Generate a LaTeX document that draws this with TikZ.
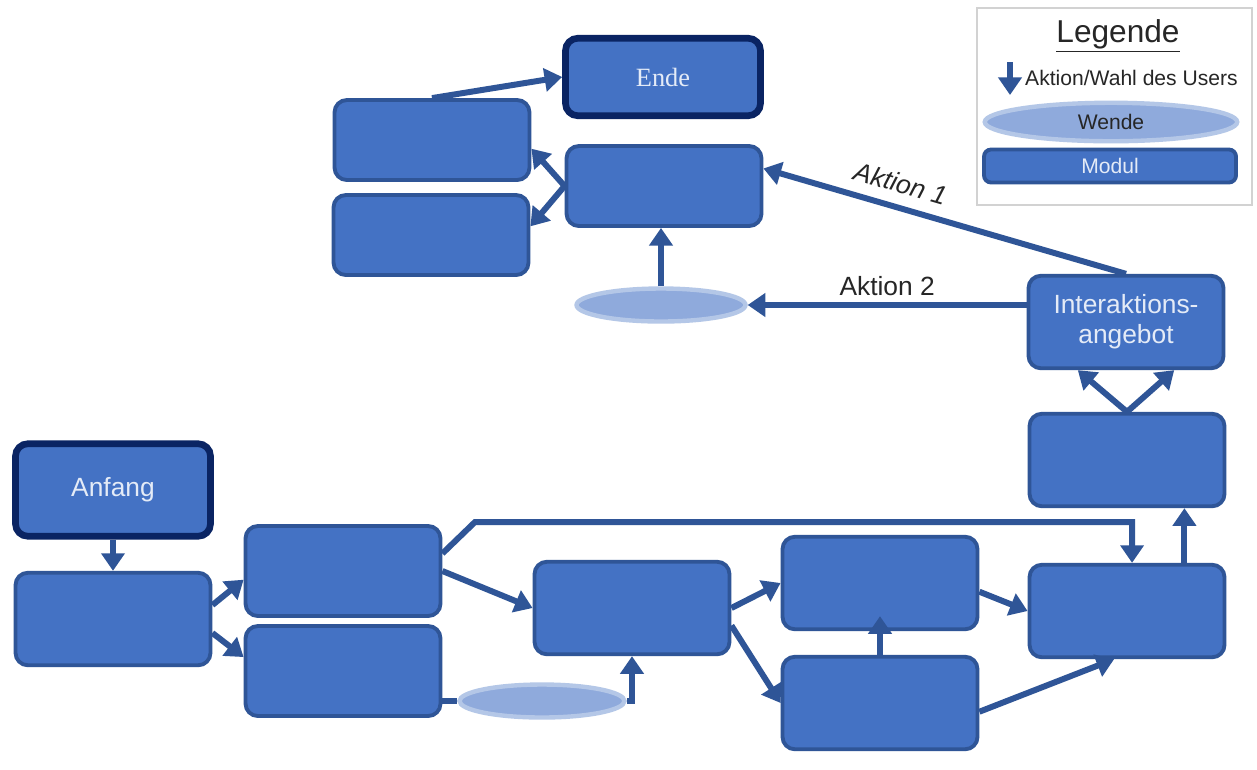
\documentclass[tikz,border=0pt]{standalone}
\usepackage{fontspec}
\setmainfont{Liberation Sans}
\newfontfamily\serifschrift{Liberation Serif}
\usetikzlibrary{arrows.meta,shapes.geometric}
\definecolor{modulblau}{HTML}{4472C4}
\definecolor{randblau}{HTML}{2F5597}
\definecolor{dunkelblau}{HTML}{0A2463}
\definecolor{wendeblau}{HTML}{8FAADC}
\definecolor{wendehell}{HTML}{B4C7E7}
\definecolor{schrift}{HTML}{E4EBF7}
\begin{document}
\begin{tikzpicture}[x=0.02cm,y=-0.02cm,
    modul/.style={draw=randblau,fill=modulblau,line width=2.2pt,rounded corners=7pt,
      minimum width=3.9cm,minimum height=1.85cm,text=schrift,
      font=\fontsize{15}{17}\selectfont,align=center},
    randmodul/.style={modul,draw=dunkelblau,line width=3.8pt},
    wende/.style={ellipse,draw=wendehell,fill=wendeblau,line width=2.5pt,
      minimum width=3.38cm,minimum height=0.66cm},
    pfeil/.style={draw=randblau,line width=3.4pt,-{Triangle[length=10pt,width=13pt]}},
    linie/.style={draw=randblau,line width=3.4pt},
    beschr/.style={font=\fontsize{15}{17}\selectfont,text=black!85}]
  \fill[white] (0,0) rectangle (1257,769);
  \useasboundingbox (0,0) rectangle (1257,769);
  % oberer Teil
  \node[randmodul,minimum height=1.55cm] (ende) at (663,77) {\serifschrift Ende};
  \node[modul,minimum height=1.6cm] (a) at (432,140) {};
  \node[modul,minimum height=1.6cm] (b) at (431,235) {};
  \node[modul,minimum height=1.6cm] (c) at (664,186) {};
  \node[wende] (et) at (661,305) {};
  \node[modul] (int) at (1126,322) {Interaktions-\\angebot};
  \node[modul] (lo) at (1127,460) {};
  % unterer Teil
  \node[randmodul] (anf) at (113,490) {Anfang};
  \node[modul] (l1) at (113,619) {};
  \node[modul,minimum height=1.8cm] (m1) at (343,571) {};
  \node[modul,minimum height=1.8cm] (m2) at (343,671) {};
  \node[wende,minimum width=3.3cm] (eb) at (542,701) {};
  \node[modul] (n) at (632,608) {};
  \node[modul] (p) at (880,583) {};
  \node[modul] (q) at (880,703) {};
  \node[modul] (r) at (1127,611) {};
  % Legende
  \node[draw=gray!35,line width=0.8pt,minimum width=5.5cm,minimum height=3.94cm] (leg) at (1114.5,106.5) {};
  \node[font=\fontsize{18}{20}\selectfont,text=black!85] (legt) at (1118,36) {\underline{Legende}};
  \coordinate (ls) at (1010,62); \coordinate (le) at (1010,95);
  \draw[pfeil] (ls) -- (le);
  \node[anchor=west,font=\fontsize{12}{14}\selectfont,text=black!85] (legp) at (1019,78) {Aktion/Wahl des Users};
  \node[wende,minimum width=5.05cm,font=\fontsize{12}{14}\selectfont,text=black!85] (legw) at (1111,122) {Wende};
  \node[modul,minimum width=5.04cm,minimum height=0.66cm,rounded corners=4pt,
    font=\fontsize{12}{14}\selectfont] (legm) at (1110,166) {Modul};
  % Pfeile oben
  \draw[pfeil] (a.north) -- (ende.west);
  \draw[pfeil] (c.west) -- (a.-5);
  \draw[pfeil] (c.west) -- (b.5);
  \draw[pfeil] (et.north) -- (et.north |- c.south);
  \draw[pfeil] (int.north) -- node[beschr,sloped,above=3pt,pos=0.64,
    font=\fontsize{15}{17}\selectfont\itshape] {Aktion 1} (c.10);
  \draw[pfeil] (et.east -| int.west) -- node[beschr,above] {Aktion 2} (et.east);
  \draw[pfeil] (lo.north) -- (int.-135);
  \draw[pfeil] (lo.north) -- (int.-45);
  % Pfeile unten
  \draw[pfeil] (anf.south) -- (l1.north);
  \draw[pfeil] (l1.8) -- (m1.-175);
  \draw[pfeil] (l1.-8) -- (m2.172);
  \coordinate (knick) at (475,522);
  \draw[pfeil] (m1.10) -- (knick) -| (r.84);
  \draw[pfeil] (m1.east) -- (n.west);
  \draw[linie] (m2.east |- eb.west) -- (eb.west);
  \draw[pfeil] (eb.east) -| (n.south);
  \draw[pfeil] (n.east) -- (p.west);
  \draw[pfeil] (n.-10) -- (q.west);
  \draw[pfeil] (q.north) -- ([yshift=0.3cm]p.south);
  \draw[pfeil] (p.-5) -- (r.west);
  \draw[pfeil] (q.-5) -- (r.-105);
  \draw[pfeil] (r.40) -- (r.40 |- lo.south);
\end{tikzpicture}
\end{document}
